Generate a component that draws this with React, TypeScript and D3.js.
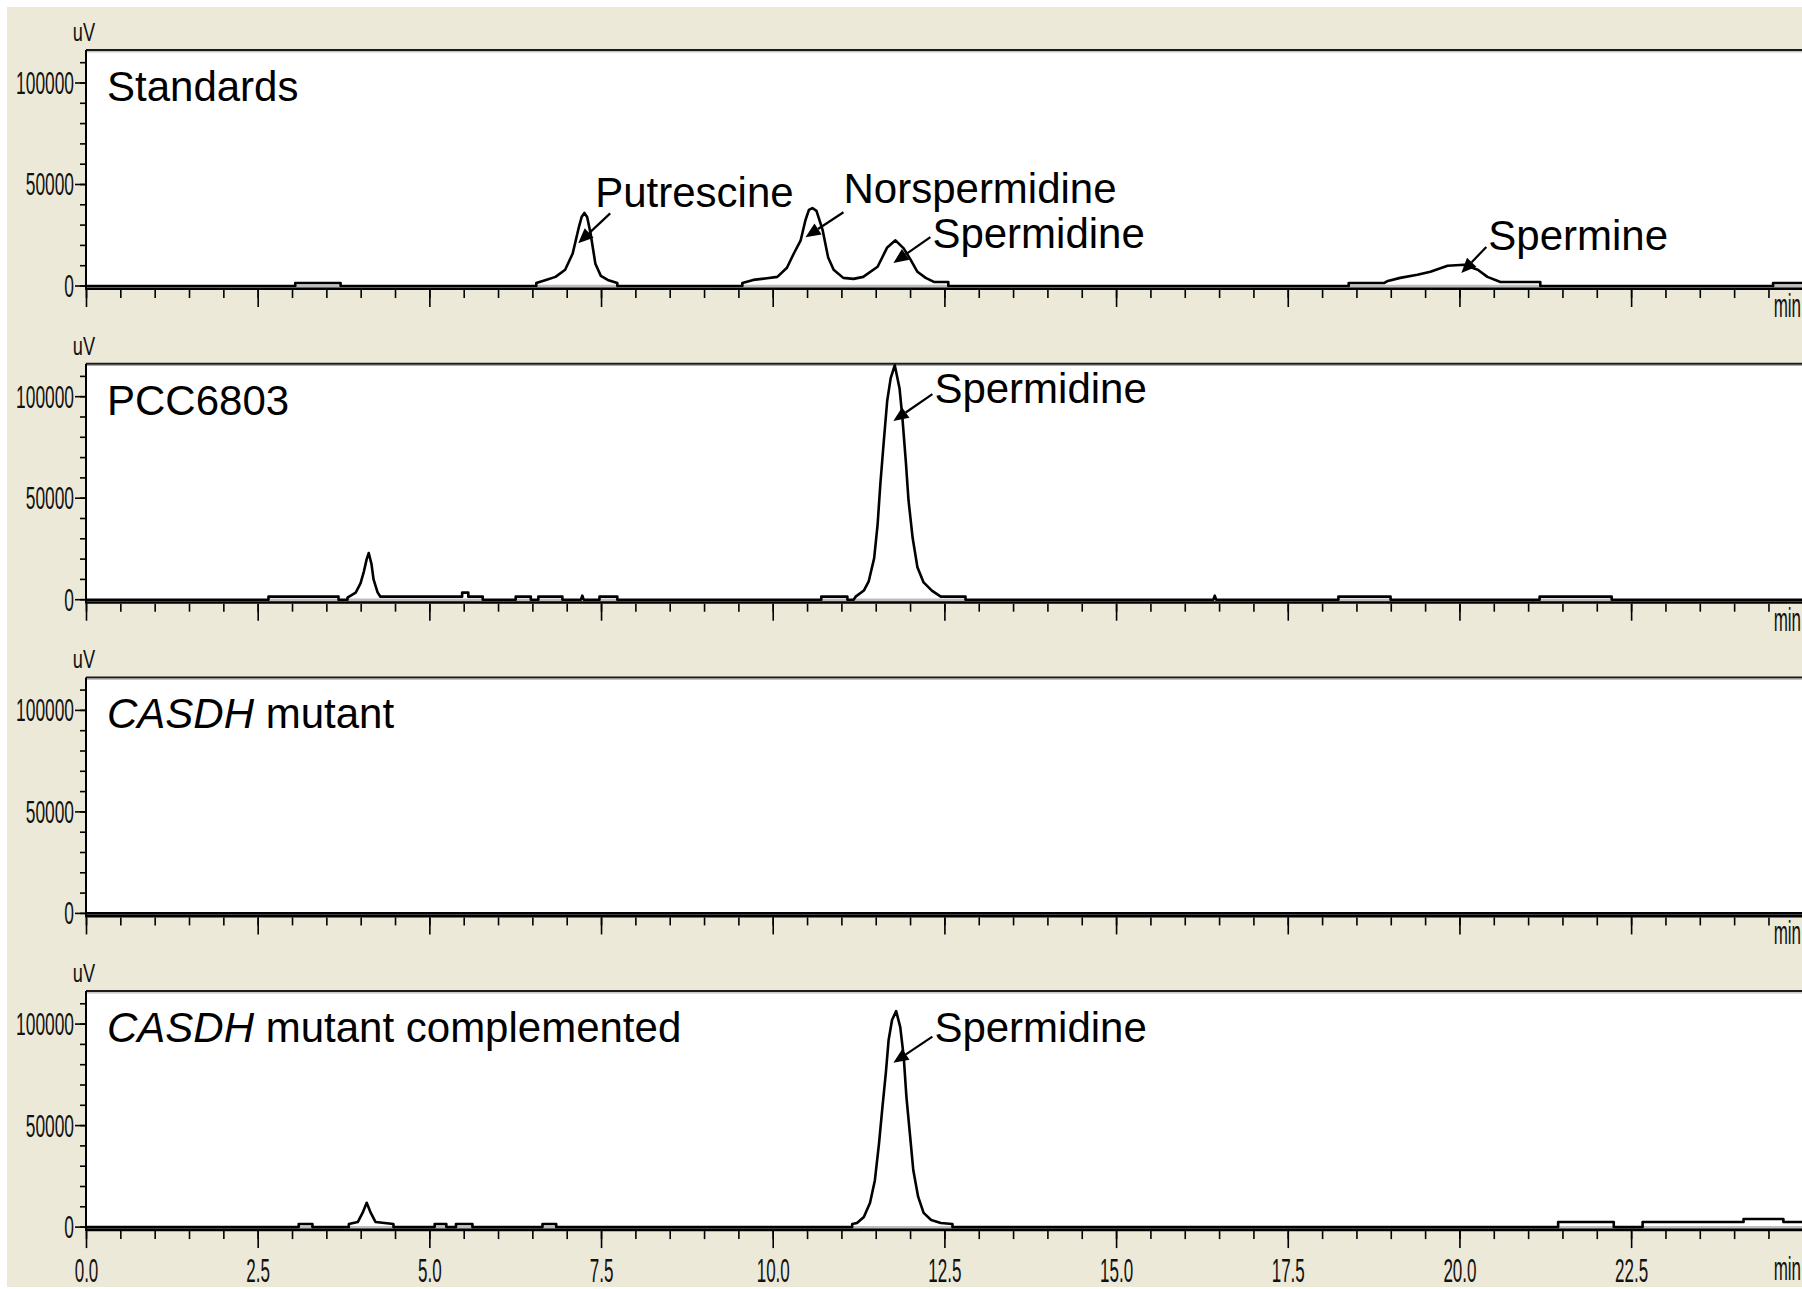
import React from "react";
import * as d3 from "d3";

type Pt = [number, number];
type Note = { label: string; t: number; v: number; ax: number; ay: number; tx: number; ty: number };

// retention time (min), signal (uV)
const standardsTrace: Pt[] = [
  [0, 0], [3.04, 0], [3.04, 1500], [3.7, 1500], [3.7, 0],
  [6.55, 0], [6.55, 1500], [6.69, 3000], [6.83, 4500], [6.97, 8000], [7.08, 16000], [7.17, 29000],
  [7.21, 34000], [7.25, 36000], [7.29, 34000], [7.34, 26000], [7.41, 11000], [7.49, 5000], [7.59, 3000],
  [7.73, 1500], [7.73, 0],
  [9.55, 0], [9.55, 1500], [9.71, 3000], [9.91, 3800], [10.06, 4500], [10.2, 9000], [10.3, 16000],
  [10.4, 22500], [10.47, 32500], [10.52, 37500], [10.57, 38400], [10.63, 37000], [10.72, 27500],
  [10.8, 14000], [10.88, 8000], [11.02, 4000], [11.17, 3500], [11.31, 4500], [11.52, 9500],
  [11.66, 19000], [11.78, 22500], [11.9, 18500], [12.0, 13000], [12.1, 7000], [12.22, 4000],
  [12.34, 2000], [12.55, 2000], [12.55, 0],
  [18.38, 0], [18.38, 1500], [18.9, 1500], [18.95, 2500], [19.13, 4000], [19.38, 5500], [19.57, 7000],
  [19.82, 10000], [20.06, 10500], [20.26, 8000], [20.4, 4500], [20.59, 2000], [21.17, 2000], [21.17, 0],
  [24.56, 0], [24.56, 1500], [25, 1500],
];

const pcc6803Trace: Pt[] = [
  [0, 0], [2.65, 0], [2.65, 1500], [3.67, 1500], [3.67, 0], [3.8, 0], [3.8, 1000], [3.92, 3500],
  [3.99, 8000], [4.04, 14000], [4.08, 20000], [4.11, 23000], [4.15, 17500], [4.18, 10000], [4.24, 3500],
  [4.28, 1500], [5.47, 1500], [5.47, 3500], [5.56, 3500], [5.56, 1500], [5.77, 1500], [5.77, 0],
  [6.25, 0], [6.25, 1500], [6.47, 1500], [6.47, 0], [6.58, 0], [6.58, 1500], [6.93, 1500], [6.93, 0],
  [7.2, 0], [7.22, 2000], [7.24, 0], [7.47, 0], [7.47, 1500], [7.73, 1500], [7.73, 0],
  [10.7, 0], [10.7, 1500], [11.08, 1500], [11.08, 0], [11.17, 0], [11.2, 1500], [11.32, 4500],
  [11.39, 9000], [11.47, 20500], [11.52, 37000], [11.56, 57000], [11.61, 78000], [11.66, 98000],
  [11.71, 109000], [11.77, 115500], [11.84, 104000], [11.88, 90000], [11.93, 68500], [11.97, 49000],
  [12.03, 30500], [12.1, 16000], [12.19, 8500], [12.31, 4500], [12.44, 1500], [12.8, 1500], [12.8, 0],
  [16.41, 0], [16.43, 2000], [16.45, 0], [18.23, 0], [18.23, 1500], [18.99, 1500], [18.99, 0],
  [21.16, 0], [21.16, 1500], [22.21, 1500], [22.21, 0], [25, 0],
];

const mutantTrace: Pt[] = [[0, 0], [25, 0]];

const complementedTrace: Pt[] = [
  [0, 0], [3.09, 0], [3.09, 1500], [3.29, 1500], [3.29, 0], [3.82, 0], [3.82, 1500], [3.95, 2500],
  [4.02, 7000], [4.08, 12000], [4.14, 7000], [4.21, 2500], [4.47, 1500], [4.47, 0],
  [5.07, 0], [5.07, 1500], [5.24, 1500], [5.24, 0], [5.38, 0], [5.38, 1500], [5.62, 1500], [5.62, 0],
  [6.64, 0], [6.64, 1500], [6.84, 1500], [6.84, 0],
  [11.15, 0], [11.15, 1500], [11.22, 2000], [11.32, 5000], [11.41, 12000], [11.48, 23000],
  [11.54, 41000], [11.59, 59000], [11.64, 76000], [11.68, 92000], [11.73, 102000], [11.79, 106400],
  [11.85, 98500], [11.9, 84000], [11.94, 64000], [11.99, 46000], [12.04, 28000], [12.11, 15000],
  [12.19, 7000], [12.3, 3500], [12.44, 2000], [12.61, 1500], [12.61, 0],
  [21.43, 0], [21.43, 2500], [22.24, 2500], [22.24, 0], [22.66, 0], [22.66, 2500], [24.13, 2500],
  [24.13, 4000], [24.71, 4000], [24.71, 2500], [25, 2500],
];

// integration baselines (start, end)
const standardsBaselines: Pt[] = [[3.04, 3.7], [6.55, 7.73], [9.55, 12.55], [18.38, 21.17], [24.56, 25]];
const pcc6803Baselines: Pt[] = [
  [2.65, 3.67], [3.8, 5.77], [6.25, 6.47], [6.58, 6.93], [7.47, 7.73], [10.7, 11.08], [11.17, 12.8],
  [18.23, 18.99], [21.16, 22.21],
];
const mutantBaselines: Pt[] = [];
const complementedBaselines: Pt[] = [
  [3.09, 3.29], [3.82, 4.47], [5.07, 5.24], [5.38, 5.62], [6.64, 6.84], [11.15, 12.61], [21.43, 22.24], [22.66, 25],
];

const standardsNotes: Note[] = [
  { label: "Putrescine", t: 7.16, v: 21000, ax: 32, ay: -30, tx: 17, ty: -36 },
  { label: "Norspermidine", t: 10.47, v: 24000, ax: 38, ay: -25, tx: 38, ty: -34 },
  { label: "Spermidine", t: 11.75, v: 11300, ax: 37, ay: -26, tx: 39, ty: -15 },
  { label: "Spermine", t: 20.02, v: 6400, ax: 25, ay: -26, tx: 27, ty: -23 },
];
const pcc6803Notes: Note[] = [{ label: "Spermidine", t: 11.75, v: 88000, ax: 39, ay: -27, tx: 41, ty: -18 }];
const complementedNotes: Note[] = [{ label: "Spermidine", t: 11.75, v: 81000, ax: 39, ay: -26, tx: 41, ty: -21 }];

const xMajorTicks = [0, 2.5, 5, 7.5, 10, 12.5, 15, 17.5, 20, 22.5, 25];
const xTickLabels = ["0.0", "2.5", "5.0", "7.5", "10.0", "12.5", "15.0", "17.5", "20.0", "22.5"];
const yMajorTicks = [0, 50000, 100000];
const yTickLabels = ["0", "50000", "100000"];

const panels = [
  { italic: "", title: "Standards", trace: standardsTrace, baselines: standardsBaselines, notes: standardsNotes },
  { italic: "", title: "PCC6803", trace: pcc6803Trace, baselines: pcc6803Baselines, notes: pcc6803Notes },
  { italic: "CASDH", title: " mutant", trace: mutantTrace, baselines: mutantBaselines, notes: [] as Note[] },
  { italic: "CASDH", title: " mutant complemented", trace: complementedTrace, baselines: complementedBaselines, notes: complementedNotes },
];

const W = 1802;
const H = 1289;
const TOP0 = 50;
const STEP = 313.7;
const PH = 236;
const LABEL_FONT = "'Liberation Sans', Arial, sans-serif";

function Panel({ idx, p, x }: { idx: number; p: (typeof panels)[0]; x: d3.ScaleLinear<number, number> }) {
  const top = TOP0 + idx * STEP;
  const y = d3.scaleLinear().domain([0, 116250]).range([top + PH, top]);
  const y0 = y(0);
  const line = d3
    .line<Pt>()
    .x((d) => x(d[0]))
    .y((d) => y(d[1]));
  const minor = d3.range(0, 25.01, 0.5);
  const yMinor = d3.range(0, 110001, 10000);
  const last = idx === panels.length - 1;
  const left = x(0) - 0.5;

  return (
    <g>
      <rect x={left} y={top} width={W - left} height={PH + 2} fill="#fff" />
      <line x1={left} x2={W} y1={top} y2={top} stroke="#1a1a1a" strokeWidth={2} />
      <line x1={left} x2={W} y1={top + 1.8} y2={top + 1.8} stroke="#a8a8a8" strokeWidth={1} />

      {/* integration baselines */}
      {p.baselines.map((b, i) => (
        <line key={i} x1={x(b[0])} x2={x(b[1])} y1={y0 + 0.3} y2={y0 + 0.3} stroke="#bdbdbd" strokeWidth={3} />
      ))}
      <line x1={left} x2={W} y1={y0 + 2.8} y2={y0 + 2.8} stroke="#000" strokeWidth={2.6} />
      <path d={line(p.trace) || ""} fill="none" stroke="#000" strokeWidth={2.6} strokeLinejoin="round" />

      {/* y axis */}
      <line x1={left} x2={left} y1={top} y2={y0 + 4} stroke="#000" strokeWidth={2} />
      {yMinor.map((v) => (
        <line key={v} x1={left - 6} x2={left} y1={y(v)} y2={y(v)} stroke="#000" strokeWidth={1.6} />
      ))}
      {yMajorTicks.map((v, i) => (
        <g key={v}>
          <line x1={left - 11} x2={left} y1={y(v)} y2={y(v)} stroke="#000" strokeWidth={1.6} />
          <text
            transform={`translate(${left - 12},${y(v) + 11}) scale(0.56,1)`}
            textAnchor="end"
            fontSize={31}
            fontFamily={LABEL_FONT}
            fill="#111"
          >
            {yTickLabels[i]}
          </text>
        </g>
      ))}
      <text
        transform={`translate(${left - 2},${top - 9}) scale(0.7,1)`}
        textAnchor="middle"
        fontSize={26}
        fontFamily={LABEL_FONT}
        fill="#111"
      >
        uV
      </text>

      {/* x axis ticks */}
      {minor.map((t) => (
        <line key={t} x1={x(t)} x2={x(t)} y1={y0 + 4} y2={y0 + 12} stroke="#000" strokeWidth={1.6} />
      ))}
      {xMajorTicks.map((t) => (
        <line key={t} x1={x(t)} x2={x(t)} y1={y0 + 4} y2={y0 + 21} stroke="#000" strokeWidth={1.6} />
      ))}
      {last &&
        xTickLabels.map((s, i) => (
          <text
            key={s}
            transform={`translate(${x(xMajorTicks[i])},${y0 + 55}) scale(0.5,1)`}
            textAnchor="middle"
            fontSize={34}
            fontFamily={LABEL_FONT}
            fill="#111"
          >
            {s}
          </text>
        ))}
      <text
        transform={`translate(${W - 1},${y0 + (last ? 53 : 31)}) scale(0.5,1)`}
        textAnchor="end"
        fontSize={34}
        fontFamily={LABEL_FONT}
        fill="#111"
      >
        min
      </text>

      {/* sample title */}
      <text x={left + 21} y={top + 51} fontSize={42} fontFamily={LABEL_FONT} fill="#000">
        {p.italic && <tspan fontStyle="italic">{p.italic}</tspan>}
        {p.title}
      </text>

      {/* peak annotations */}
      {p.notes.map((n) => {
        const tipX = x(n.t);
        const tipY = y(n.v);
        const sx = tipX + n.ax;
        const sy = tipY + n.ay;
        const ang = Math.atan2(tipY - sy, tipX - sx);
        const len = 15;
        const hw = 6.5;
        const bx = tipX - len * Math.cos(ang);
        const by = tipY - len * Math.sin(ang);
        const px = -Math.sin(ang) * hw;
        const py = Math.cos(ang) * hw;
        return (
          <g key={n.label + n.t}>
            <line x1={sx} y1={sy} x2={bx} y2={by} stroke="#000" strokeWidth={2.2} />
            <polygon points={`${tipX},${tipY} ${bx + px},${by + py} ${bx - px},${by - py}`} fill="#000" />
            <text x={tipX + n.tx} y={tipY + n.ty} fontSize={42} fontFamily={LABEL_FONT} fill="#000">
              {n.label}
            </text>
          </g>
        );
      })}
    </g>
  );
}

export default function App() {
  const x = d3.scaleLinear().domain([0, 25]).range([86.5, 1803.3]);
  return (
    <div style={{ position: "absolute", left: 0, top: 0, width: W, height: H, background: "#fff" }}>
      <svg width={W} height={H} style={{ display: "block" }}>
        <rect x={7} y={7} width={W - 7} height={H - 9} fill="#ECE9D8" />
        {panels.map((p, i) => (
          <Panel key={i} idx={i} p={p} x={x} />
        ))}
      </svg>
    </div>
  );
}
